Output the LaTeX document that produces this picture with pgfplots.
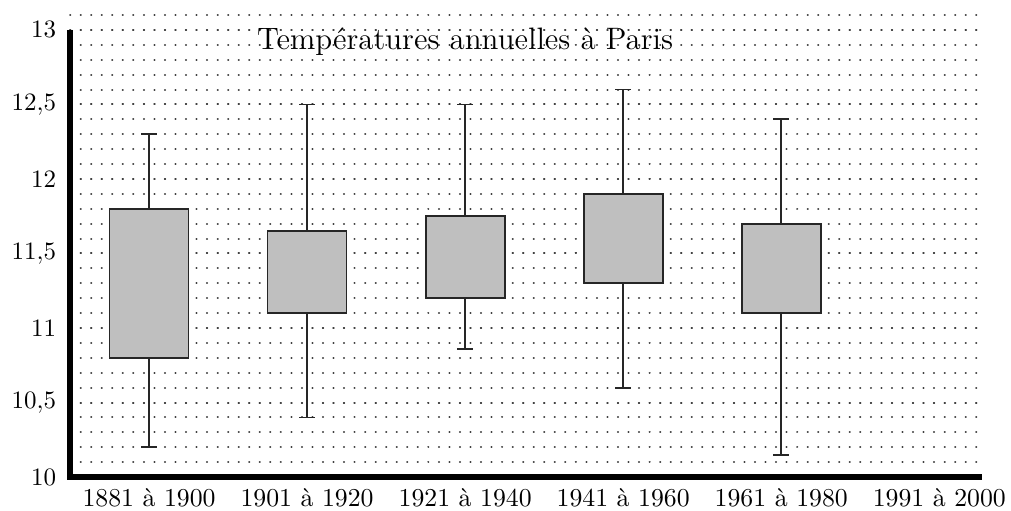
\documentclass[border=0pt]{standalone}
\usepackage{pgfplots}
\pgfplotsset{compat=1.18}
\usepgfplotslibrary{statistics}
\begin{document}
\begin{tikzpicture}
\begin{axis}[
  x=63.2pt, y=59.6pt,
  xmin=-0.5, xmax=5.27, ymin=10, ymax=13.1,
  axis x line=bottom, axis y line=left,
  axis line style={draw=none,-},
  xtick={0,...,5},
  xticklabels={1881 à 1900, 1901 à 1920, 1921 à 1940, 1941 à 1960, 1961 à 1980, 1991 à 2000},
  ytick={10,10.5,...,13},
  minor ytick={10.1,10.2,...,13.15},
  ymajorgrids, yminorgrids,
  major tick length=0pt, minor tick length=0pt,
  grid style={line width=0.8pt, line cap=round, dash pattern=on 0.1pt off 4.113pt, black!75},
  major grid style={line width=0.8pt, line cap=round, dash pattern=on 0.1pt off 4.113pt, black!75},
  minor grid style={line width=0.8pt, line cap=round, dash pattern=on 0.1pt off 4.113pt, black!75},
  /pgf/number format/use comma,
  /pgf/number format/1000 sep={},
  tick label style={font=\fontsize{10.3}{12}\selectfont},
  yticklabel style={xshift=-2pt},
  xticklabel style={yshift=-1pt},
  boxplot/draw direction=y,
  clip=false,
]
\addplot[boxplot prepared={draw position=0, lower whisker=10.2, lower quartile=10.8, median=10.8, upper quartile=11.8, upper whisker=12.3, box extend=0.5, whisker extend=0.1}, fill=gray!50, draw=black!85, line width=0.7pt] coordinates {};
\addplot[boxplot prepared={draw position=1, lower whisker=10.4, lower quartile=11.1, median=11.1, upper quartile=11.65, upper whisker=12.5, box extend=0.5, whisker extend=0.1}, fill=gray!50, draw=black!85, line width=0.7pt] coordinates {};
\addplot[boxplot prepared={draw position=2, lower whisker=10.86, lower quartile=11.2, median=11.2, upper quartile=11.75, upper whisker=12.5, box extend=0.5, whisker extend=0.1}, fill=gray!50, draw=black!85, line width=0.7pt] coordinates {};
\addplot[boxplot prepared={draw position=3, lower whisker=10.6, lower quartile=11.3, median=11.3, upper quartile=11.9, upper whisker=12.6, box extend=0.5, whisker extend=0.1}, fill=gray!50, draw=black!85, line width=0.7pt] coordinates {};
\addplot[boxplot prepared={draw position=4, lower whisker=10.15, lower quartile=11.1, median=11.1, upper quartile=11.7, upper whisker=12.4, box extend=0.5, whisker extend=0.1}, fill=gray!50, draw=black!85, line width=0.7pt] coordinates {};
\draw[line width=2.4pt] (axis cs:-0.5,13) |- (axis cs:5.27,10);
\node[anchor=base, font=\fontsize{12.4}{15}\selectfont, inner sep=0pt] at (axis cs:2,12.87) {Températures annuelles à Paris};
\coordinate (O) at (axis cs:-0.5,10);
\coordinate (T) at (axis cs:5.27,13.1);
\end{axis}
\pgfresetboundingbox
\path ([shift={(-28pt,-13.2pt)}]O) rectangle ([shift={(11.6pt,6pt)}]T);
\end{tikzpicture}
\end{document}
